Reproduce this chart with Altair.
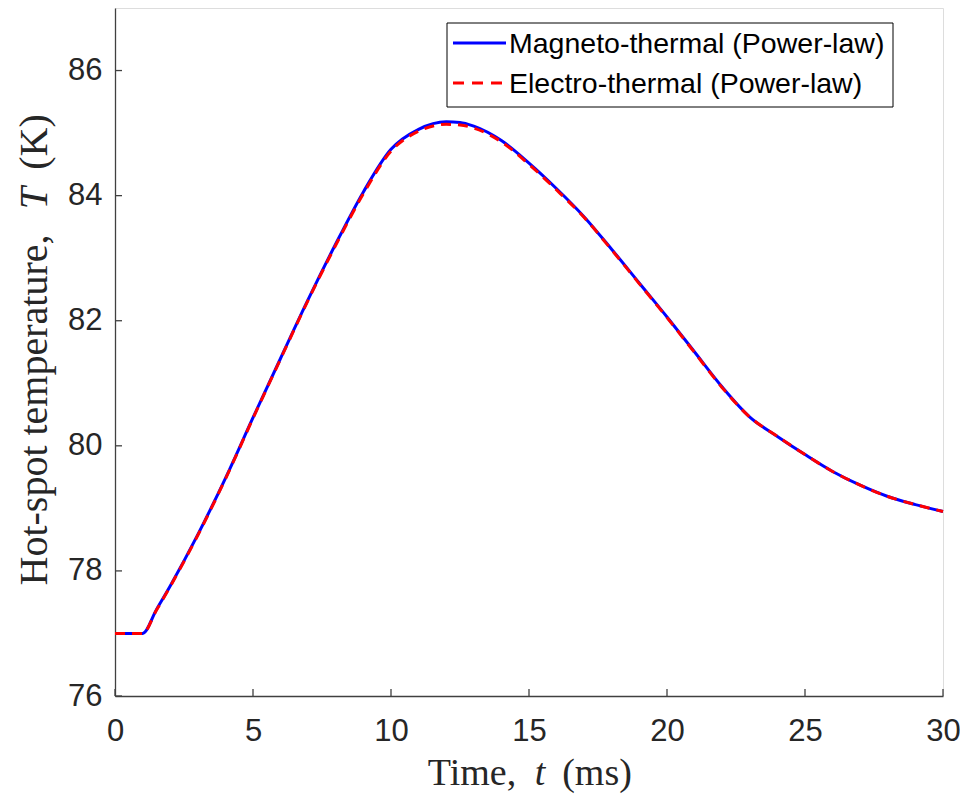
import altair as alt
import pandas as pd

# ---- data ----
time_ms = [0, 1, 1.5, 2, 3, 4, 5, 6, 7, 8, 9, 10, 11, 12, 12.5, 13, 14, 15, 16, 17, 18,
           19, 20, 21, 22, 23, 24, 25, 26, 27, 28, 29, 30]
magneto_T = [77.0, 77.0, 77.38, 77.76, 78.58, 79.48, 80.45, 81.40, 82.34, 83.23, 84.06, 84.74,
             85.06, 85.18, 85.17, 85.11, 84.88, 84.52, 84.11, 83.66, 83.14,
             82.60, 82.06, 81.50, 80.94, 80.46, 80.15, 79.86, 79.59, 79.37, 79.19, 79.06, 78.95]
electro_T = [77.0, 77.0, 77.37, 77.75, 78.57, 79.47, 80.44, 81.39, 82.33, 83.21, 84.03, 84.71,
             85.03, 85.14, 85.13, 85.08, 84.86, 84.50, 84.09, 83.65, 83.13,
             82.59, 82.05, 81.49, 80.93, 80.46, 80.15, 79.86, 79.59, 79.37, 79.19, 79.06, 78.95]
series_names = ["Magneto-thermal (Power-law)", "Electro-thermal (Power-law)"]
x_ticks = [0, 5, 10, 15, 20, 25, 30]
y_ticks = [76, 78, 80, 82, 84, 86]
x_title_parts = ["Time,", "t", "(ms)"]
y_title_parts = ["Hot-spot temperature,", "T", "(K)"]

W, H = 828, 688
PL = 107            # left padding (page x of plot = PL + 8)
OX = PL + 8
AX = "#404040"
LBL = "#262626"

df = pd.DataFrame({
    "t": time_ms * 2,
    "T": magneto_T + electro_T,
    "series": [series_names[0]] * len(time_ms) + [series_names[1]] * len(time_ms),
})

xs = alt.Scale(domain=[0, 30], nice=False, zero=False)
ys = alt.Scale(domain=[76, 87], nice=False, zero=False)

x_axis = alt.Axis(values=x_ticks, title=None, ticks=False, grid=False, format="d",
                  labelFont="Liberation Sans", labelFontSize=31, labelColor=LBL,
                  labelPadding=20, labelFlush=False, domainColor=AX, domainWidth=1.3)
y_axis = alt.Axis(values=y_ticks, title=None, ticks=False, grid=False, format="d",
                  labelFont="Liberation Sans", labelFontSize=31, labelColor=LBL,
                  labelPadding=13, labelFlush=False, domainColor=AX, domainWidth=1.3)

mag = alt.Chart(df[df.series == series_names[0]]).mark_line(
    color="#0000FF", strokeWidth=3, interpolate="monotone"
).encode(x=alt.X("t:Q", scale=xs, axis=x_axis), y=alt.Y("T:Q", scale=ys, axis=y_axis))

ele = alt.Chart(df[df.series == series_names[1]]).mark_line(
    color="#FF0000", strokeWidth=3, strokeDash=[10, 7], interpolate="monotone"
).encode(x=alt.X("t:Q", scale=xs), y=alt.Y("T:Q", scale=ys))

xt = alt.Chart(pd.DataFrame({"v": x_ticks})).mark_rule(color=AX, strokeWidth=1.3).encode(
    x=alt.X("v:Q", scale=xs), y=alt.value(H), y2=alt.value(H - 7))
yt = alt.Chart(pd.DataFrame({"v": y_ticks})).mark_rule(color=AX, strokeWidth=1.3).encode(
    y=alt.Y("v:Q", scale=ys), x=alt.value(0), x2=alt.value(7))

# ---- axis titles (serif, italic symbol) ----
TF = "Liberation Serif"
TS = 38
x_title_y = 777
xt1 = alt.Chart(pd.DataFrame({"s": [x_title_parts[0]]})).mark_text(
    font=TF, fontSize=TS, color=LBL, align="center", baseline="alphabetic").encode(
    text="s:N", x=alt.value(472 - OX), y=alt.value(x_title_y))
xt2 = alt.Chart(pd.DataFrame({"s": [x_title_parts[1]]})).mark_text(
    font=TF, fontSize=TS, fontStyle="italic", color=LBL, align="center", baseline="alphabetic").encode(
    text="s:N", x=alt.value(540 - OX), y=alt.value(x_title_y))
xt3 = alt.Chart(pd.DataFrame({"s": [x_title_parts[2]]})).mark_text(
    font=TF, fontSize=TS, color=LBL, align="center", baseline="alphabetic").encode(
    text="s:N", x=alt.value(597 - OX), y=alt.value(x_title_y))

TSY = 40
y_title_x = 47 - OX
yt1 = alt.Chart(pd.DataFrame({"s": [y_title_parts[0]]})).mark_text(
    font=TF, fontSize=TSY, color=LBL, align="center", baseline="alphabetic", angle=270).encode(
    text="s:N", x=alt.value(y_title_x), y=alt.value(410 - 8))
yt2 = alt.Chart(pd.DataFrame({"s": [y_title_parts[1]]})).mark_text(
    font=TF, fontSize=TSY, fontStyle="italic", color=LBL, align="center", baseline="alphabetic", angle=270).encode(
    text="s:N", x=alt.value(y_title_x), y=alt.value(198 - 8))
yt3 = alt.Chart(pd.DataFrame({"s": [y_title_parts[2]]})).mark_text(
    font=TF, fontSize=TSY, color=LBL, align="center", baseline="alphabetic", angle=270).encode(
    text="s:N", x=alt.value(y_title_x), y=alt.value(142 - 8))

# ---- legend ----
LX0, LX1, LY0, LY1 = 447 - OX, 893 - OX, 23 - 8, 107 - 8
box = alt.Chart(pd.DataFrame({"a": [0]})).mark_rect(
    fill="white", stroke="black", strokeWidth=1).encode(
    x=alt.value(LX0), x2=alt.value(LX1), y=alt.value(LY0), y2=alt.value(LY1))
row_y = [43 - 8, 83 - 8]
sym1 = alt.Chart(pd.DataFrame({"a": [0]})).mark_rule(color="#0000FF", strokeWidth=3).encode(
    x=alt.value(453 - OX), x2=alt.value(506 - OX), y=alt.value(row_y[0]))
sym2 = alt.Chart(pd.DataFrame({"a": [0]})).mark_rule(color="#FF0000", strokeWidth=3, strokeDash=[11, 8]).encode(
    x=alt.value(453 - OX), x2=alt.value(506 - OX), y=alt.value(row_y[1]))
lab1 = alt.Chart(pd.DataFrame({"s": [series_names[0]]})).mark_text(
    font="Liberation Sans", fontSize=28.5, color="black", align="left", baseline="middle").encode(
    text="s:N", x=alt.value(509 - OX), y=alt.value(row_y[0] + 1))
lab2 = alt.Chart(pd.DataFrame({"s": [series_names[1]]})).mark_text(
    font="Liberation Sans", fontSize=28.5, color="black", align="left", baseline="middle").encode(
    text="s:N", x=alt.value(509 - OX), y=alt.value(row_y[1] + 1))

chart = alt.layer(
    mag, ele, xt, yt, xt1, xt2, xt3, yt1, yt2, yt3, box, sym1, sym2, lab1, lab2
).properties(
    width=W, height=H,
    autosize=alt.AutoSizeParams(type="none"),
    padding={"left": PL, "top": 0, "right": 17, "bottom": 98},
).configure_view(stroke=None).configure(background="white")

chart.save("out.html", embed_options={"renderer": "svg", "actions": False})
